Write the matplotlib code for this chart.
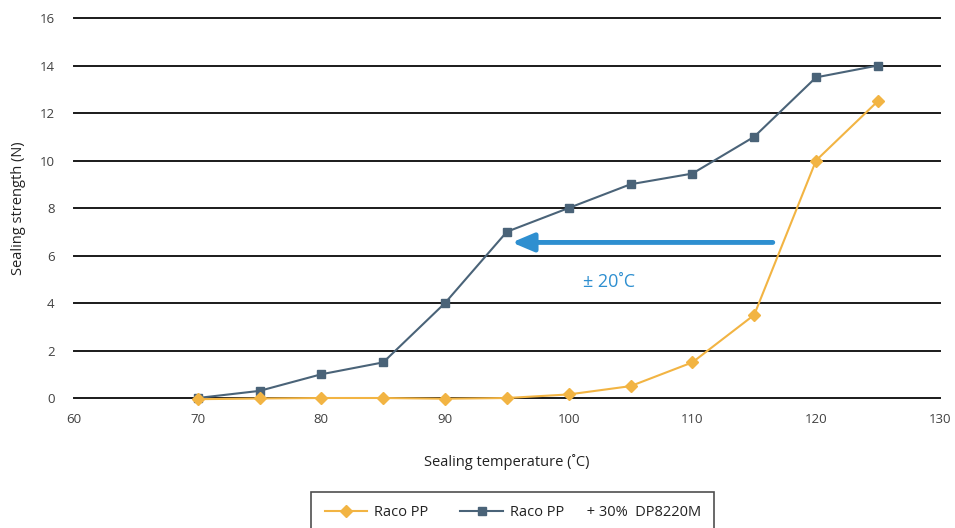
import numpy as np
import matplotlib
matplotlib.use('Agg')
import matplotlib.pyplot as plt

plt.rcParams['font.family'] = ['Open Sans', 'DejaVu Sans']

# data
temp = [70, 75, 80, 85, 90, 95, 100, 105, 110, 115, 120, 125]
raco_pp = [-0.05, -0.02, 0.0, 0.0, -0.03, 0.0, 0.15, 0.5, 1.5, 3.5, 10.0, 12.5]
raco_pp_dp = [0.0, 0.3, 1.0, 1.5, 4.0, 7.0, 8.0, 9.0, 9.45, 11.0, 13.5, 14.0]
yticks = [0, 2, 4, 6, 8, 10, 12, 14, 16]
xticks = [60, 70, 80, 90, 100, 110, 120, 130]

orange = '#F2B443'
slate = '#4A6378'
arrow_col = '#2E8FD0'
txt = '#404040'

fig = plt.figure(figsize=(9.55, 5.28), dpi=100)
ax = fig.add_axes([0.0775, 0.2462, 0.9065, 0.7197])

for y in yticks:
    ax.axhline(y, color='#1a1a1a', lw=1.4, zorder=1, clip_on=False)

ax.plot(temp, raco_pp_dp, color=slate, lw=1.5, marker='s', ms=6,
        label='Raco PP', zorder=3, clip_on=False)
ax.plot(temp, raco_pp, color=orange, lw=1.5, marker='D', ms=6,
        label='Raco PP', zorder=4, clip_on=False)

# arrow showing the shift in sealing temperature
ax.annotate('', xy=(95.4, 6.55), xytext=(116.5, 6.55),
            arrowprops=dict(arrowstyle='-|>,head_length=1.3,head_width=0.55',
                            color=arrow_col, lw=3.5, shrinkA=0, shrinkB=0),
            zorder=5)
ax.text(103.3, 4.88, '± 20˚C', color=arrow_col, fontsize=13,
        ha='center', va='center')

ax.set_xlim(60, 130)
ax.set_ylim(0, 16)
ax.set_xticks(xticks)
ax.set_yticks(yticks)
ax.tick_params(length=0, labelsize=9.5, labelcolor=txt, pad=11)
ax.tick_params(axis='y', pad=14)
for s in ax.spines.values():
    s.set_visible(False)

ax.set_xlabel('Sealing temperature (˚C)', fontsize=10.5, color='#222222', labelpad=20)
ax.set_ylabel('Sealing strength (N)', fontsize=10.5, color='#222222', labelpad=10)

h, l = ax.get_legend_handles_labels()
handles = [h[1], h[0]]
labels = ['Raco PP', 'Raco PP      + 30%  DP8220M']
leg = fig.legend(handles, labels, loc='upper center', bbox_to_anchor=(0.537, 0.069),
                 ncol=2, frameon=True, fancybox=False, edgecolor='#222222',
                 fontsize=10.5, handlelength=2.9, columnspacing=2.2,
                 borderpad=0.9, handletextpad=0.5, borderaxespad=0)
leg.get_frame().set_linewidth(1.2)
for t in leg.get_texts():
    t.set_color('#222222')

fig.savefig('out.png', dpi=100)
